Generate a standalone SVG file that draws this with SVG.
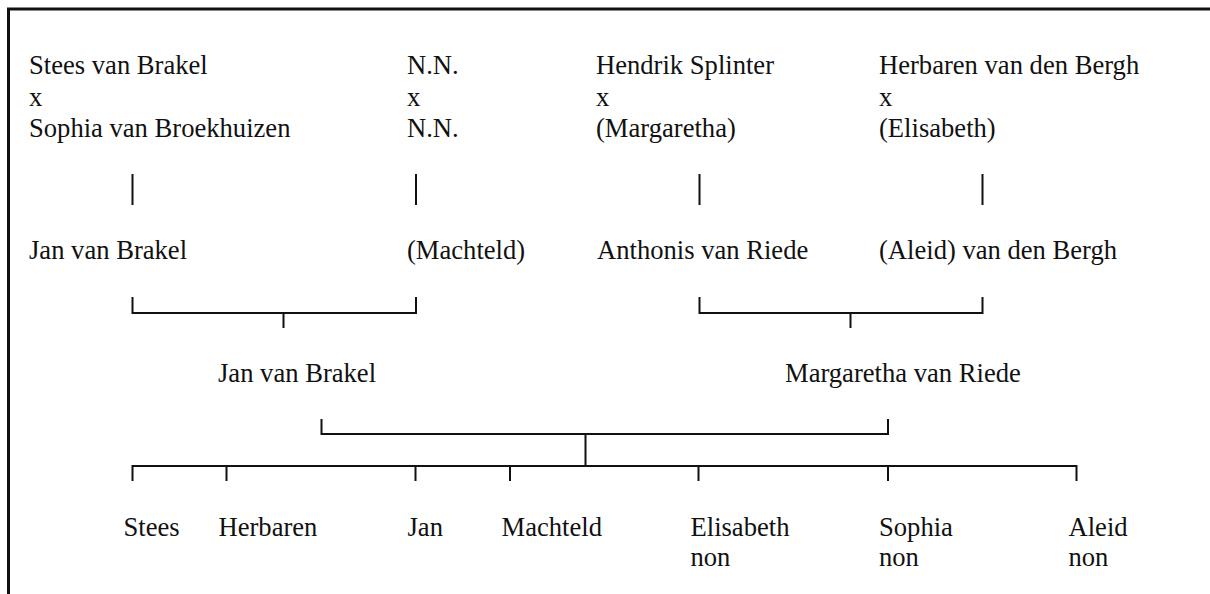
<svg xmlns="http://www.w3.org/2000/svg" width="1210" height="594" viewBox="0 0 1210 594">
<style>
text{font-family:"Liberation Serif","Times New Roman",serif;font-size:26.6px;fill:#111}
.ln{stroke:#111;stroke-width:2;fill:none}
.frame{stroke:#111;stroke-width:3;fill:none}
</style>
<rect width="1210" height="594" fill="#fff"/>
<path class="frame" d="M8.5,594 V9 H1210"/>
<g id="n-stees-sophia"><text x="29" y="74">Stees van Brakel</text><text x="29" y="105.5">x</text><text x="29" y="137">Sophia van Broekhuizen</text></g>
<g id="n-nn"><text x="407" y="74">N.N.</text><text x="407" y="105.5">x</text><text x="407" y="137">N.N.</text></g>
<g id="n-hendrik"><text x="596" y="74">Hendrik Splinter</text><text x="596" y="105.5">x</text><text x="596" y="137">(Margaretha)</text></g>
<g id="n-herbaren"><text x="879" y="74">Herbaren van den Bergh</text><text x="879" y="105.5">x</text><text x="879" y="137">(Elisabeth)</text></g>
<g id="n-jan1"><text x="29" y="259">Jan van Brakel</text></g>
<g id="n-machteld1"><text x="407" y="259">(Machteld)</text></g>
<g id="n-anthonis"><text x="597" y="259">Anthonis van Riede</text></g>
<g id="n-aleid1"><text x="879" y="259">(Aleid) van den Bergh</text></g>
<g id="n-jan2"><text x="218" y="381.5">Jan van Brakel</text></g>
<g id="n-margaretha"><text x="785" y="381.5">Margaretha van Riede</text></g>
<g id="n-stees"><text x="123.5" y="536">Stees</text></g>
<g id="n-herbaren2"><text x="218.5" y="536">Herbaren</text></g>
<g id="n-jan3"><text x="407.5" y="536">Jan</text></g>
<g id="n-machteld2"><text x="501.5" y="536">Machteld</text></g>
<g id="n-elisabeth"><text x="690.5" y="536">Elisabeth</text><text x="690.5" y="566">non</text></g>
<g id="n-sophia"><text x="879" y="536">Sophia</text><text x="879" y="566">non</text></g>
<g id="n-aleid2"><text x="1068.5" y="536">Aleid</text><text x="1068.5" y="566">non</text></g>
<g id="connectors" class="ln">
<path d="M132.5,174 V205 M416,174 V205 M699.5,174 V205 M982.5,174 V205"/>
<path d="M132.5,297 V313 H416 V297 M283.5,313 V328"/>
<path d="M699.5,297 V313 H982.5 V297 M850.5,313 V328"/>
<path d="M321.5,419 V434 H888 V419 M585.5,434 V466"/>
<path d="M132.5,481 V466 H1076.5 V481 M226.5,466 V481 M415.5,466 V481 M510,466 V481 M698.5,466 V481 M888,466 V481"/>
</g>
</svg>
